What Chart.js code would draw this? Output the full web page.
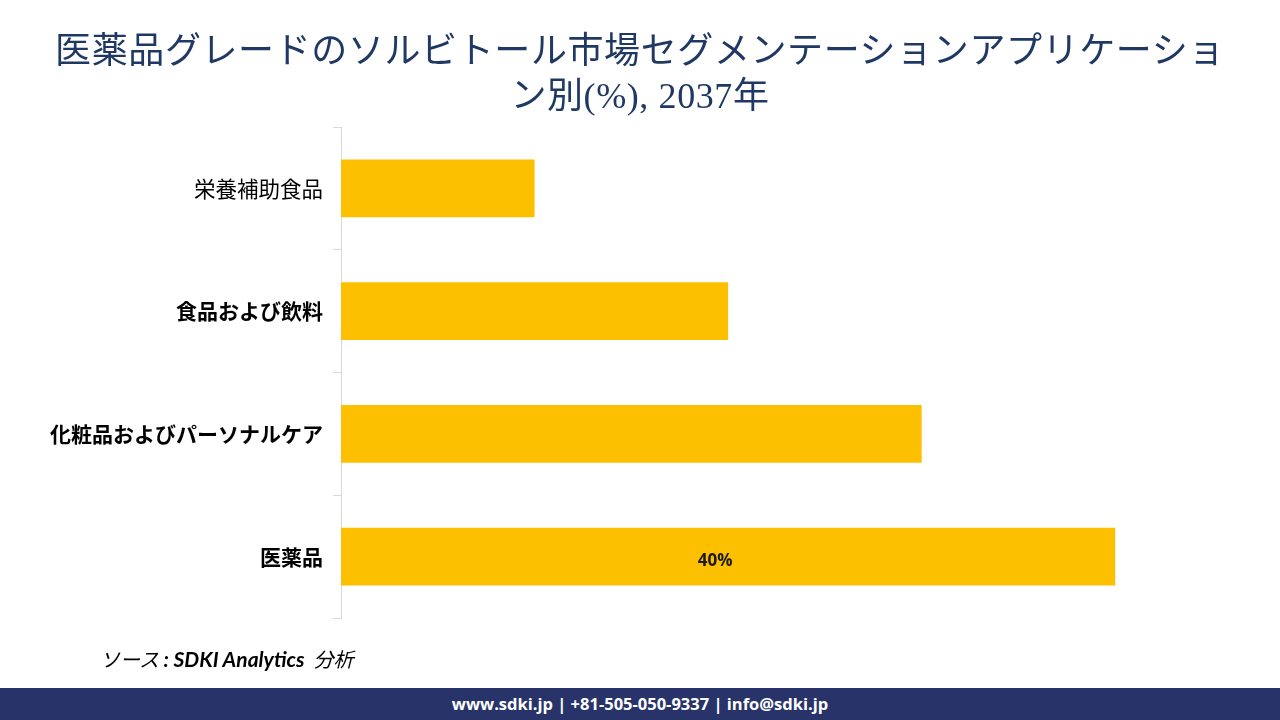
<!DOCTYPE html>
<html>
<head>
<meta charset="utf-8">
<script src="https://cdn.jsdelivr.net/npm/chart.js@4"></script>
<style>
  body { margin: 0; width: 1280px; height: 720px; overflow: hidden; background: #fff; position: relative; }
  #wrap { position: absolute; left: 0; top: 0; width: 1280px; height: 720px; }
  .title { position: absolute; left: 0; top: 29px; width: 1280px; text-align: center;
    font-family: 'Liberation Serif', 'Noto Sans CJK JP', serif; font-size: 36px; line-height: 45px;
    letter-spacing: 0.6px; color: #1f3864; }
  .source { position: absolute; left: 100px; top: 644px; font-size: 20px; font-style: italic; color: #000;
    font-family: 'Noto Sans CJK JP', sans-serif; }
  .source b { font-family: Lato, 'Noto Sans', sans-serif; font-weight: 700; font-size: 21px; }
  .footer { position: absolute; left: 0; top: 688px; width: 1280px; height: 32px; background: #283469;
    color: #fff; text-align: center; font: 700 16.5px 'Open Sans', sans-serif; line-height: 32px; }
</style>
</head>
<body>
<div id="wrap"><canvas id="salesChart" width="1280" height="720"></canvas></div>
<div class="title">医薬品グレードのソルビトール市場セグメンテーションアプリケーショ<br>ン別(%), 2037年</div>
<div class="source">ソース&nbsp;<b>: SDKI Analytics</b>&nbsp; 分析</div>
<div class="footer">www.sdki.jp | +81-505-050-9337 | info@sdki.jp</div>
<script>
const categories = ['栄養補助食品', '食品および飲料', '化粧品およびパーソナルケア', '医薬品'];
const shares = [10, 20, 30, 40];
const valueLabels = ['', '', '', '40%'];

const barLabels = {
  id: 'barLabels',
  afterDatasetsDraw(chart) {
    const ctx = chart.ctx;
    const meta = chart.getDatasetMeta(0);
    ctx.save();
    ctx.font = '700 17px "Open Sans", sans-serif';
    ctx.fillStyle = '#1a1a1a';
    ctx.textAlign = 'center';
    ctx.textBaseline = 'middle';
    meta.data.forEach((bar, i) => {
      if (!valueLabels[i]) return;
      ctx.fillText(valueLabels[i], (bar.base + bar.x) / 2 - 13, bar.y + 5);
    });
    ctx.restore();
  }
};

new Chart(salesChart, {
  type: 'bar',
  data: {
    labels: categories,
    datasets: [{
      data: shares,
      backgroundColor: '#fcc000',
      barPercentage: 0.47,
      categoryPercentage: 1
    }]
  },
  options: {
    indexAxis: 'y',
    responsive: false,
    animation: false,
    layout: { padding: { left: 0, top: 127, right: 68, bottom: 102 } },
    plugins: { legend: { display: false }, tooltip: { enabled: false } },
    scales: {
      x: { display: false, min: 0, max: 45 },
      y: {
        afterFit(scale) { scale.width = 341; },
        border: { color: '#d9d9d9', width: 1 },
        grid: { drawOnChartArea: false, drawTicks: true, tickLength: 8, color: '#d9d9d9' },
        ticks: {
          padding: 10,
          color: '#000',
          font: (c) => ({
            family: '"Noto Sans CJK JP", sans-serif',
            size: c.index === 0 ? 21.5 : 21,
            weight: c.index === 0 ? 400 : 700
          })
        }
      }
    }
  },
  plugins: [barLabels]
});
</script>
</body>
</html>
